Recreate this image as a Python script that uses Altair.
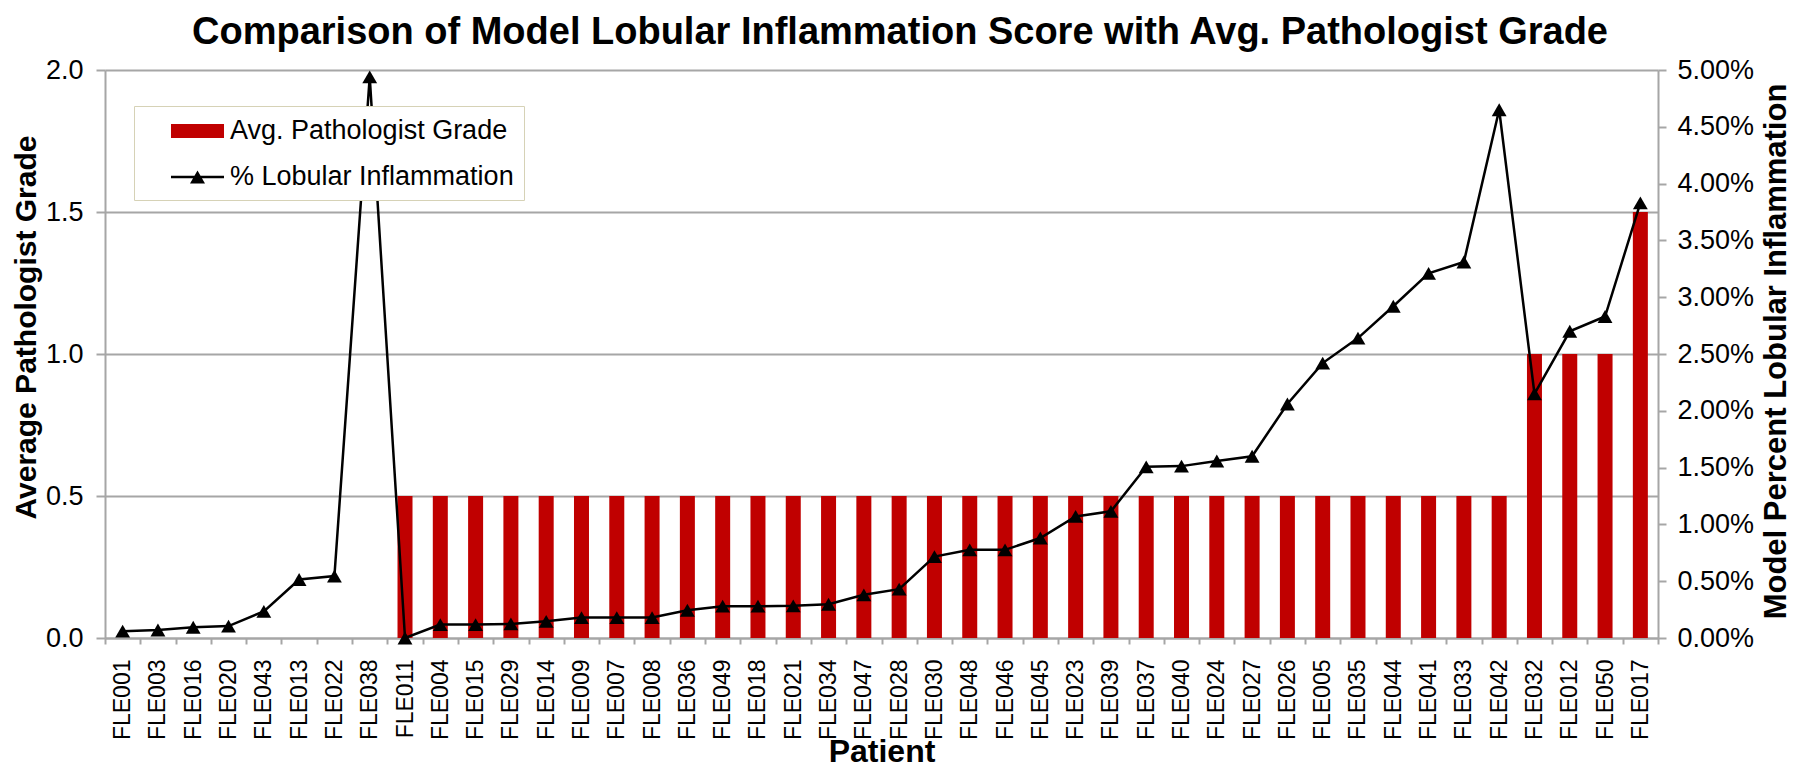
import altair as alt
import pandas as pd

patients = ["FLE001","FLE003","FLE016","FLE020","FLE043","FLE013","FLE022","FLE038","FLE011","FLE004",
            "FLE015","FLE029","FLE014","FLE009","FLE007","FLE008","FLE036","FLE049","FLE018","FLE021",
            "FLE034","FLE047","FLE028","FLE030","FLE048","FLE046","FLE045","FLE023","FLE039","FLE037",
            "FLE040","FLE024","FLE027","FLE026","FLE005","FLE035","FLE044","FLE041","FLE033","FLE042",
            "FLE032","FLE012","FLE050","FLE017"]
avg_grade = [0, 0, 0, 0, 0, 0, 0, 0, 0.5, 0.5,
             0.5, 0.5, 0.5, 0.5, 0.5, 0.5, 0.5, 0.5, 0.5, 0.5,
             0.5, 0.5, 0.5, 0.5, 0.5, 0.5, 0.5, 0.5, 0.5, 0.5,
             0.5, 0.5, 0.5, 0.5, 0.5, 0.5, 0.5, 0.5, 0.5, 0.5,
             1.0, 1.0, 1.0, 1.5]
lobular_pct = [0.06, 0.07, 0.095, 0.105, 0.235, 0.515, 0.545, 4.94, 0.0, 0.118,
               0.118, 0.124, 0.147, 0.18, 0.18, 0.18, 0.244, 0.28, 0.28, 0.283,
               0.297, 0.38, 0.43, 0.717, 0.776, 0.776, 0.88, 1.07, 1.115, 1.507,
               1.513, 1.558, 1.60, 2.06, 2.42, 2.64, 2.92, 3.21, 3.31, 4.65,
               2.15, 2.70, 2.83, 3.83]
series_names = ["Avg. Pathologist Grade", "% Lobular Inflammation"]
grade_ticks = [0, 0.5, 1.0, 1.5, 2.0]
pct_ticks = [0, 0.005, 0.01, 0.015, 0.02, 0.025, 0.03, 0.035, 0.04, 0.045, 0.05]

df = pd.DataFrame({"patient": patients, "grade": avg_grade,
                   "pct": [v / 100 for v in lobular_pct]})
legend_df = pd.DataFrame({"patient": [patients[0], patients[0]],
                          "pct": [None, None], "series": series_names})

FONT = "Liberation Sans"
GRID = "#a6a6a6"
RED = "#C00000"

x_enc = alt.X("patient:N", sort=patients,
              scale=alt.Scale(paddingInner=0, paddingOuter=0),
              axis=alt.Axis(title="Patient", labelAngle=270, labelFontSize=23, labelFont=FONT,
                            labelColor="black", tickBand="extent", tickSize=6, labelPadding=15,
                            tickColor=GRID, tickWidth=2, domainColor=GRID, domainWidth=2,
                            grid=False, titleFont=FONT, titleFontSize=32, titleFontWeight="bold",
                            titleColor="black", titleY=123, titleBaseline="alphabetic"))

bars = alt.Chart(df).mark_bar(size=15, color=RED).encode(
    x=x_enc,
    y=alt.Y("grade:Q", scale=alt.Scale(domain=[0, 2]),
            axis=alt.Axis(title="Average Pathologist Grade", values=grade_ticks, format=".1f",
                          grid=True, gridColor=GRID, gridWidth=2, tickSize=9, labelPadding=13,
                          tickColor=GRID, tickWidth=2, domainColor=GRID, domainWidth=2,
                          labelFont=FONT, labelFontSize=27, labelColor="black",
                          titleFont=FONT, titleFontSize=30, titleFontWeight="bold", titleColor="black",
                          titleAngle=270, titleX=-70, titleY=257, titleAlign="center",
                          titleBaseline="alphabetic")),
)

y_pct = alt.Y("pct:Q", scale=alt.Scale(domain=[0, 0.05]),
              axis=alt.Axis(title="Model Percent Lobular Inflammation", orient="right",
                            values=pct_ticks, format=".2%", grid=False, tickSize=8, labelPadding=11,
                            tickColor=GRID, tickWidth=2, domainColor=GRID, domainWidth=2,
                            labelFont=FONT, labelFontSize=27, labelColor="black",
                            titleFont=FONT, titleFontSize=31, titleFontWeight="bold", titleColor="black",
                            titleAngle=270, titleX=127, titleY=281, titleAlign="center",
                            titleBaseline="alphabetic"))

line = alt.Chart(df).mark_line(color="black", strokeWidth=2.5).encode(x=x_enc, y=y_pct)
points = alt.Chart(df).mark_point(shape="triangle-up", filled=True, size=220,
                                  color="black", opacity=1).encode(x=x_enc, y=y_pct)

rect_path = "M-1.767,-0.467H1.767V0.467H-1.767Z"
line_tri_path = "M-1.767,-0.083H1.767V0.083H-1.767Z M-0.5,0.43L0,-0.43L0.5,0.43Z"
NB = "\u00a0"
leg = dict(title=None, orient="none", legendX=29, legendY=36,
           padding=10, symbolOffset=38.5, labelOffset=17.5,
           rowPadding=18, symbolSize=900, symbolStrokeWidth=0,
           labelFont=FONT, labelFontSize=27, labelColor="black",
           labelLimit=700, fillColor="white", strokeColor="#d6d2b6",
           labelExpr="datum.label + '" + NB * 4 + "'")
legend_layer = alt.Chart(legend_df).mark_point(filled=True, opacity=1, size=900).encode(
    x=x_enc, y=y_pct,
    color=alt.Color("series:N", scale=alt.Scale(domain=series_names, range=[RED, "black"]),
                    legend=alt.Legend(**leg)),
    shape=alt.Shape("series:N", scale=alt.Scale(domain=series_names, range=[rect_path, line_tri_path]),
                    legend=alt.Legend(**leg)),
)

right = alt.layer(line, points, legend_layer)

chart = alt.layer(bars, right).resolve_scale(y="independent").properties(
    width=1553, height=568,
    padding={"left": 97, "top": 62, "right": 134, "bottom": 130},
    autosize=alt.AutoSizeParams(type="none"),
    title=alt.TitleParams("Comparison of Model Lobular Inflammation Score with Avg. Pathologist Grade",
                          font=FONT, fontSize=38, fontWeight="bold", color="black",
                          anchor="middle", dx=18.5, dy=13, offset=17),
).configure_view(stroke=None)

chart.save("out.html", embed_options={"renderer": "svg", "actions": False})
